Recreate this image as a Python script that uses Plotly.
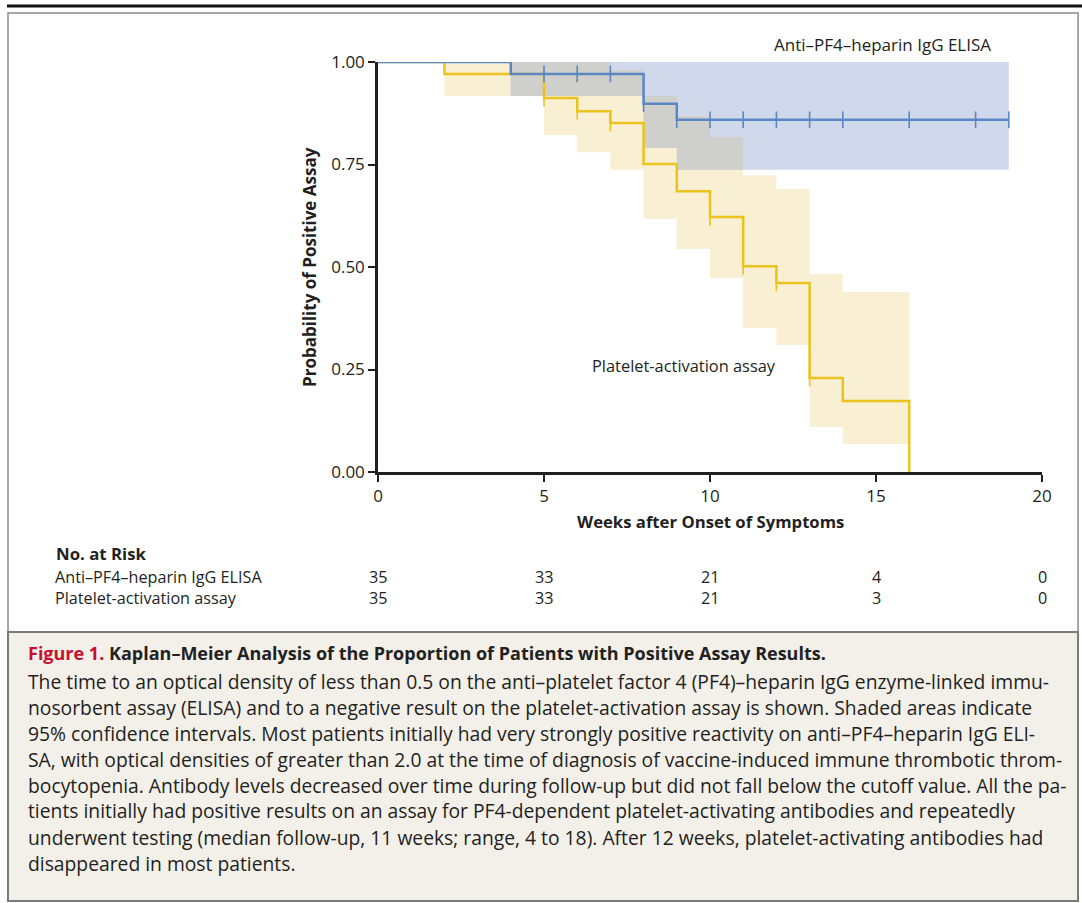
import plotly.graph_objects as go

# ---------------- data ----------------
elisa_times = [0, 4, 8, 9]
elisa_surv = [1.0, 0.971, 0.898, 0.859]
elisa_lower = [1.0, 0.917, 0.79, 0.737]
elisa_upper = [1.0, 1.0, 1.0, 1.0]
elisa_end = 19
elisa_censor = [5, 6, 7, 8, 9, 10, 11, 12, 13, 14, 16, 18, 19]

plat_times = [0, 2, 5, 6, 7, 8, 9, 10, 11, 12, 13, 14]
plat_surv = [1.0, 0.971, 0.912, 0.880, 0.851, 0.751, 0.685, 0.622, 0.502, 0.461, 0.229, 0.173]
plat_lower = [1.0, 0.917, 0.822, 0.78, 0.737, 0.617, 0.544, 0.473, 0.351, 0.31, 0.11, 0.068]
plat_upper = [1.0, 1.0, 1.0, 1.0, 0.98, 0.917, 0.868, 0.817, 0.724, 0.69, 0.483, 0.439]
plat_end = 16
plat_censor = [5, 6, 7, 10, 11, 12, 13]

risk_weeks = [0, 5, 10, 15, 20]
risk_elisa = [35, 33, 21, 4, 0]
risk_plat = [35, 33, 21, 3, 0]
risk_labels = ["Anti–PF4–heparin IgG ELISA", "Platelet-activation assay"]

x_ticks = [0, 5, 10, 15, 20]
y_ticks = [0, 0.25, 0.5, 0.75, 1.0]

# ---------------- styles ----------------
FONT = "Open Sans"
TXT = "#231f20"
BLUE = "#5b87c5"
BLUE_FILL = "#d0d9ec"
YEL = "#eac31c"
YEL_FILL = "#f9efd3"
GRAY_FILL = "#cfcfcc"

W, H = 1082, 903
L, R, T, B = 378, 1042, 62, 472


def px(x):
    return (x - L) / (R - L)


def py(y):
    return (B - y) / (B - T)


def intervals(times, end):
    return list(zip(times, times[1:] + [end]))


def step_val(times, vals, t):
    v = vals[0]
    for ti, vi in zip(times, vals):
        if t >= ti:
            v = vi
    return v


def rect_path(ints, lows, highs):
    xs, ys = [], []
    for (a, b), lo, hi in zip(ints, lows, highs):
        if hi <= lo:
            continue
        xs += [a, b, b, a, a, None]
        ys += [lo, lo, hi, hi, lo, None]
    return xs, ys


fig = go.Figure()

# CI bands
e_int = intervals(elisa_times, elisa_end)
p_int = intervals(plat_times, plat_end)

xs, ys = rect_path(p_int, plat_lower, plat_upper)
fig.add_trace(go.Scatter(x=xs, y=ys, mode="lines", fill="toself", fillcolor=YEL_FILL,
                         line=dict(width=0), hoverinfo="skip", showlegend=False))
xs, ys = rect_path(e_int, elisa_lower, elisa_upper)
fig.add_trace(go.Scatter(x=xs, y=ys, mode="lines", fill="toself", fillcolor=BLUE_FILL,
                         line=dict(width=0), hoverinfo="skip", showlegend=False))

# overlap of the two bands
bps = sorted(set(elisa_times + plat_times + [elisa_end, plat_end]))
ov_int, ov_lo, ov_hi = [], [], []
for a, b in zip(bps, bps[1:]):
    if b > min(elisa_end, plat_end):
        continue
    lo = max(step_val(elisa_times, elisa_lower, a), step_val(plat_times, plat_lower, a))
    hi = min(step_val(elisa_times, elisa_upper, a), step_val(plat_times, plat_upper, a))
    ov_int.append((a, b))
    ov_lo.append(lo)
    ov_hi.append(hi)
xs, ys = rect_path(ov_int, ov_lo, ov_hi)
fig.add_trace(go.Scatter(x=xs, y=ys, mode="lines", fill="toself", fillcolor=GRAY_FILL,
                         line=dict(width=0), hoverinfo="skip", showlegend=False))

# step curves
fig.add_trace(go.Scatter(x=plat_times + [plat_end], y=plat_surv + [0.0], mode="lines",
                         line=dict(color=YEL, width=2.5, shape="hv"), cliponaxis=False,
                         showlegend=False))
fig.add_trace(go.Scatter(x=elisa_times + [elisa_end], y=elisa_surv + [elisa_surv[-1]], mode="lines",
                         line=dict(color=BLUE, width=2.5, shape="hv"), cliponaxis=False,
                         showlegend=False))

# censor marks
fig.add_trace(go.Scatter(x=plat_censor, y=[step_val(plat_times, plat_surv, t) for t in plat_censor],
                         mode="markers", cliponaxis=False, showlegend=False,
                         marker=dict(symbol="line-ns", size=12, line=dict(color=YEL, width=1.6))))
fig.add_trace(go.Scatter(x=elisa_censor, y=[step_val(elisa_times, elisa_surv, t) for t in elisa_censor],
                         mode="markers", cliponaxis=False, showlegend=False,
                         marker=dict(symbol="line-ns", size=12, line=dict(color=BLUE, width=1.6))))

ann = []
# series labels
ann.append(dict(x=px(882), y=py(45), xref="paper", yref="paper", text="Anti–PF4–heparin IgG ELISA",
                showarrow=False, font=dict(family=FONT, size=17, color=TXT), xanchor="center", yanchor="middle"))
ann.append(dict(x=px(684), y=py(365), xref="paper", yref="paper", text="Platelet-activation assay",
                showarrow=False, font=dict(family=FONT, size=16.4, color=TXT), xanchor="center", yanchor="middle"))
# axis titles
ann.append(dict(x=px(309), y=py(267), xref="paper", yref="paper", text="<b>Probability of Positive Assay</b>",
                textangle=-90, showarrow=False, font=dict(family=FONT, size=17, color=TXT),
                xanchor="center", yanchor="middle"))
ann.append(dict(x=px(710), y=py(521), xref="paper", yref="paper", text="<b>Weeks after Onset of Symptoms</b>",
                showarrow=False, font=dict(family=FONT, size=16.7, color=TXT), xanchor="center", yanchor="middle"))
# at risk table
RISK_FS = 16.2
ann.append(dict(x=px(54), y=py(553), xref="paper", yref="paper", text="<b>No. at Risk</b>",
                showarrow=False, font=dict(family=FONT, size=16.8, color=TXT), xanchor="left", yanchor="middle"))
ann.append(dict(x=px(54), y=py(587), xref="paper", yref="paper", text="<br>".join(risk_labels),
                showarrow=False, align="left", borderpad=0,
                font=dict(family=FONT, size=RISK_FS, color=TXT), xanchor="left", yanchor="middle"))
for w, a, b in zip(risk_weeks, risk_elisa, risk_plat):
    ann.append(dict(x=w, y=py(587), xref="x", yref="paper", text="%d<br>%d" % (a, b), showarrow=False,
                    align="center", borderpad=0,
                    font=dict(family=FONT, size=RISK_FS, color=TXT), xanchor="center", yanchor="middle"))

# caption
cap_title = ('<span style="color:#c8102e"><b>Figure 1.</b></span> '
             '<b>Kaplan–Meier Analysis of the Proportion of Patients with Positive Assay Results.</b>')
ann.append(dict(x=px(26), y=py(653), xref="paper", yref="paper", text=cap_title, showarrow=False,
                font=dict(family=FONT, size=18, color=TXT), xanchor="left", yanchor="middle"))
cap_lines = [
    "The time to an optical density of less than 0.5 on the anti–platelet factor 4 (PF4)–heparin IgG enzyme-linked immu-",
    "nosorbent assay (ELISA) and to a negative result on the platelet-activation assay is shown. Shaded areas indicate",
    "95% confidence intervals. Most patients initially had very strongly positive reactivity on anti–PF4–heparin IgG ELI-",
    "SA, with optical densities of greater than 2.0 at the time of diagnosis of vaccine-induced immune thrombotic throm-",
    "bocytopenia. Antibody levels decreased over time during follow-up but did not fall below the cutoff value. All the pa-",
    "tients initially had positive results on an assay for PF4-dependent platelet-activating antibodies and repeatedly",
    "underwent testing (median follow-up, 11 weeks; range, 4 to 18). After 12 weeks, platelet-activating antibodies had",
    "disappeared in most patients.",
]
for i, line in enumerate(cap_lines):
    ann.append(dict(x=px(26), y=py(681 + 26 * i), xref="paper", yref="paper", text=line, showarrow=False,
                    font=dict(family=FONT, size=19.3, color=TXT), xanchor="left", yanchor="middle"))

shapes = [
    dict(type="line", xref="paper", yref="paper", x0=px(7), x1=px(1082), y0=py(6), y1=py(6),
         line=dict(color="#111111", width=3)),
    dict(type="rect", xref="paper", yref="paper", x0=px(8), x1=px(1078), y0=py(632), y1=py(13),
         line=dict(color="#8a8a8a", width=1.5), fillcolor="rgba(0,0,0,0)", layer="below"),
    dict(type="rect", xref="paper", yref="paper", x0=px(8), x1=px(1078), y0=py(901), y1=py(632),
         line=dict(color="#7a7a7a", width=2), fillcolor="#f3f0ea", layer="below"),
]

fig.update_layout(
    width=W, height=H,
    margin=dict(l=L, r=W - R, t=T, b=H - B, pad=0),
    paper_bgcolor="white", plot_bgcolor="white",
    font=dict(family=FONT, color=TXT),
    showlegend=False,
    annotations=ann,
    shapes=shapes,
    xaxis=dict(range=[0, 20], tickvals=x_ticks, ticktext=[str(v) for v in x_ticks],
               showgrid=False, zeroline=False, showline=True, linecolor=TXT, linewidth=2.5,
               ticks="outside", ticklen=7, tickwidth=2, tickcolor=TXT,
               tickfont=dict(family=FONT, size=17, color=TXT)),
    yaxis=dict(range=[0, 1], tickvals=y_ticks, ticktext=["%.2f" % v for v in y_ticks],
               showgrid=False, zeroline=False, showline=True, linecolor=TXT, linewidth=2.5,
               ticks="outside", ticklen=7, tickwidth=2, tickcolor=TXT,
               tickfont=dict(family=FONT, size=17, color=TXT)),
)

fig.write_html("out.html", config={"displayModeBar": False},
               post_script="document.body.style.margin='0px';")
